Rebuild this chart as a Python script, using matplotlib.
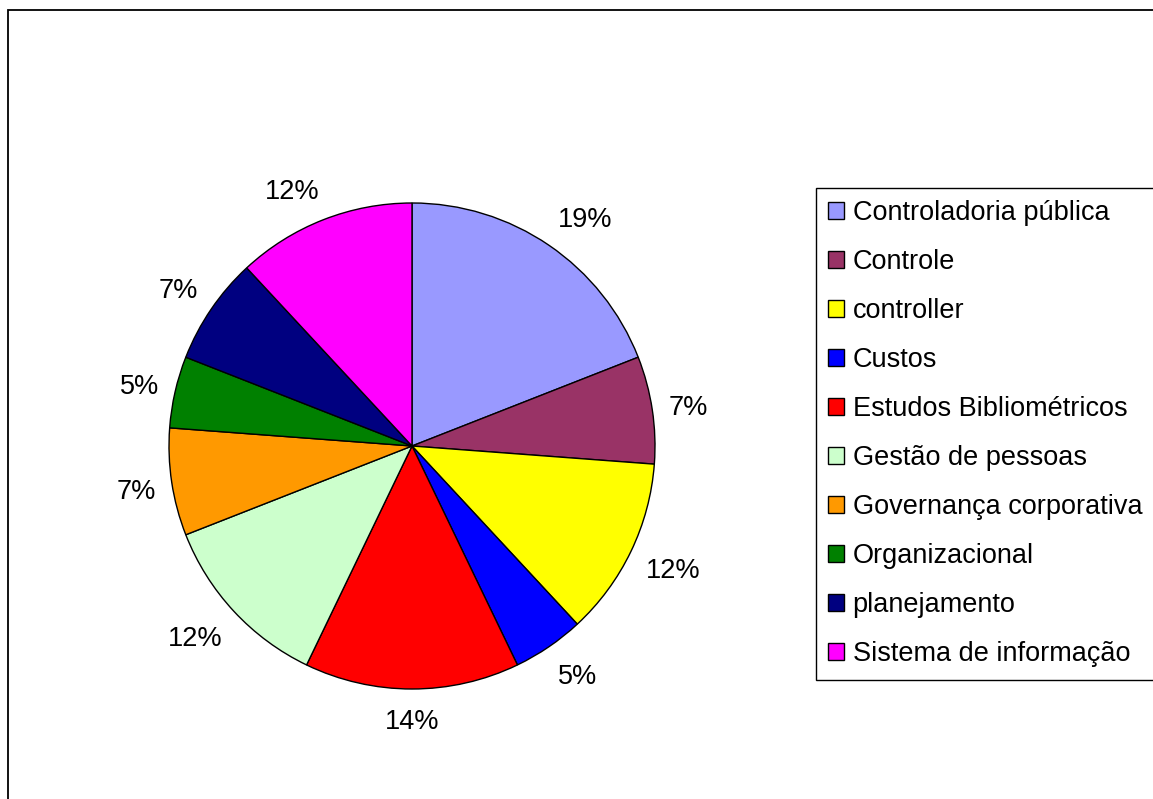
import matplotlib
matplotlib.use("Agg")
import matplotlib.pyplot as plt
import numpy as np
from matplotlib.patches import Rectangle

plt.rcParams['font.family'] = ['Liberation Sans', 'DejaVu Sans']

# number of papers per topic
topics = ['Controladoria pública', 'Controle', 'controller', 'Custos',
          'Estudos Bibliométricos', 'Gestão de pessoas', 'Governança corporativa',
          'Organizacional', 'planejamento', 'Sistema de informação']
counts = [8, 3, 5, 2, 6, 5, 3, 2, 3, 5]
colors = ['#9999FF', '#993366', '#FFFF00', '#0000FF', '#FF0000',
          '#CCFFCC', '#FF9900', '#008000', '#000080', '#FF00FF']

W, H = 1153, 799
fig = plt.figure(figsize=(W / 100, H / 100), dpi=100)

# outer chart border
fig.patches.append(Rectangle((7.5 / W, -0.1), 1.2, 1 - 9.5 / H + 0.1,
                             transform=fig.transFigure, fill=False,
                             edgecolor='black', linewidth=1.3))

# pie centred at (412, 446) px with a 243 px radius
cx, cy, r = 412, H - 446, 243
half = r * 1.25
ax = fig.add_axes([(cx - half) / W, (cy - half) / H, 2 * half / W, 2 * half / H])

wedges, texts, autotexts = ax.pie(
    counts, colors=colors, startangle=90, counterclock=False,
    autopct='%1.0f%%', pctdistance=1.155,
    wedgeprops=dict(edgecolor='black', linewidth=1.0),
    textprops=dict(fontsize=19.5, color='black'))
ax.set_xlim(-1.25, 1.25)
ax.set_ylim(-1.25, 1.25)

# put each percentage just outside the rim, with the text box edge
# facing the pie sitting on an anchor point along the wedge bisector
fig.canvas.draw()
renderer = fig.canvas.get_renderer()
anchor_r = 1.066
for w, t in zip(wedges, autotexts):
    phi = np.deg2rad((w.theta1 + w.theta2) / 2)
    bb = t.get_window_extent(renderer)
    nudge = 4 * (1 - max(np.sin(phi), 0))
    dx = bb.width / 2 * np.clip(2.5 * np.cos(phi), -1, 1) / r
    dy = (bb.height / 2 * np.clip(1.5 * np.sin(phi), -1, 1) - nudge) / r
    t.set_position((anchor_r * np.cos(phi) + dx, anchor_r * np.sin(phi) + dy))

leg = fig.legend(wedges, topics, loc='upper left',
                 bbox_to_anchor=(816 / W, 1 - 188 / H),
                 fontsize=19.5, frameon=True, fancybox=False, framealpha=1,
                 edgecolor='black', handlelength=0.6, handleheight=0.6,
                 handletextpad=0.3, labelspacing=0.85, borderpad=0.45,
                 borderaxespad=0)
leg.get_frame().set_linewidth(1.0)
for h in leg.legend_handles:
    h.set_edgecolor('black')
    h.set_linewidth(1.0)

fig.savefig('out.png', dpi=100)
